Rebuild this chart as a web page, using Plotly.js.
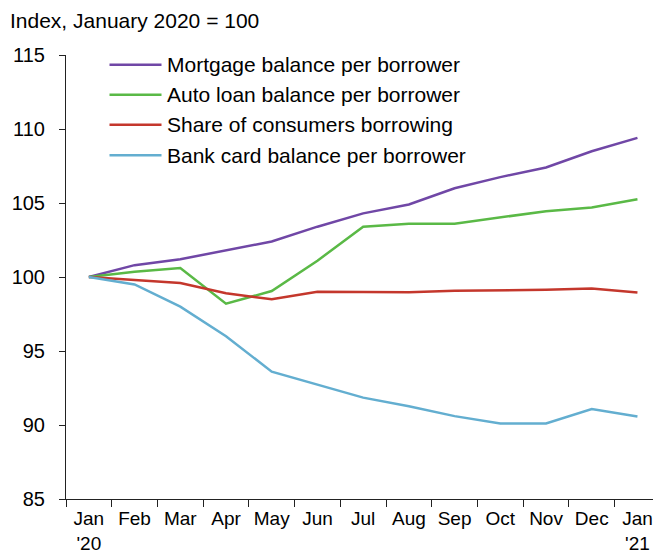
<!DOCTYPE html>
<html>
<head>
<meta charset="utf-8">
<script src="https://cdn.plot.ly/plotly-3.0.1.min.js"></script>
<style>html,body{margin:0;padding:0;background:#fff;}#chart{width:653px;height:550px;}</style>
</head>
<body>
<div id="chart"></div>
<script>
var months = ["Jan<br>'20","Feb","Mar","Apr","May","Jun","Jul","Aug","Sep","Oct","Nov","Dec","Jan<br>'21"];
var mortgage = [100, 100.8, 101.2, 101.8, 102.4, 103.4, 104.3, 104.9, 106.0, 106.75, 107.4, 108.5, 109.4];
var autoLoan = [100, 100.35, 100.6, 98.2, 99.05, 101.1, 103.4, 103.6, 103.6, 104.05, 104.45, 104.7, 105.25];
var shareBorrowing = [100, 99.8, 99.6, 98.9, 98.5, 99.0, 99.0, 98.97, 99.07, 99.1, 99.14, 99.22, 98.96];
var bankCard = [100, 99.5, 98.0, 96.0, 93.6, 92.7, 91.85, 91.27, 90.6, 90.1, 90.1, 91.08, 90.57];

var names = ["Mortgage balance per borrower","Auto loan balance per borrower","Share of consumers borrowing","Bank card balance per borrower"];
var colors = ["#7047a6","#5ab946","#c4372c","#63aed0"];
var series = [mortgage, autoLoan, shareBorrowing, bankCard];

var W = 653, H = 550, mL = 66, mR = 0, mT = 55, mB = 51;
var pw = W - mL - mR, ph = H - mT - mB;
function px2x(p){ return (p - mL) / pw; }
function px2y(p){ return 1 - (p - mT) / ph; }

var traces = series.map(function(s, i){
  return {
    x: months, y: s, type: 'scatter', mode: 'lines', name: names[i],
    line: {color: colors[i], width: 2.5}, showlegend: false
  };
});

var fam = 'Liberation Sans, Arial, sans-serif';
var font = {family: fam, size: 21, color: '#000'};

// manual legend
var legendRows = [64.7, 94.7, 124.7, 155.3];
var shapes = [], annotations = [];
names.forEach(function(n, i){
  shapes.push({type: 'line', xref: 'paper', yref: 'paper',
    x0: px2x(109.5), x1: px2x(161.5), y0: px2y(legendRows[i]), y1: px2y(legendRows[i]),
    line: {color: colors[i], width: 2.5}});
  annotations.push({text: n, xref: 'paper', yref: 'paper', x: px2x(165), y: px2y(legendRows[i]),
    xanchor: 'left', yanchor: 'middle', showarrow: false, font: font});
});
annotations.push({
  text: 'Index, January 2020 = 100', xref: 'paper', yref: 'paper',
  x: px2x(8), y: px2y(20), xanchor: 'left', yanchor: 'middle',
  showarrow: false, font: font
});

var layout = {
  width: W, height: H,
  margin: {l: mL, r: mR, t: mT, b: mB},
  paper_bgcolor: '#fff', plot_bgcolor: '#fff',
  font: font,
  showlegend: false,
  xaxis: {
    type: 'category', range: [-0.5, 12.34], showgrid: false, zeroline: false,
    showline: true, linecolor: '#222', linewidth: 1,
    ticks: 'outside', tickson: 'boundaries', ticklen: 7, tickcolor: '#222',
    tickfont: {family: fam, size: 19, color: '#000'}, tickangle: 0,
    fixedrange: true, ticklabelstandoff: 2
  },
  yaxis: {
    range: [85, 115], tickvals: [85,90,95,100,105,110,115], showgrid: false, zeroline: false,
    showline: true, linecolor: '#222', linewidth: 1,
    ticks: 'outside', ticklen: 6, tickcolor: '#222',
    tickfont: {family: fam, size: 20, color: '#000'}, fixedrange: true,
    ticklabelstandoff: 10
  },
  shapes: shapes,
  annotations: annotations
};
Plotly.newPlot('chart', traces, layout, {displayModeBar: false, staticPlot: true});
</script>
</body>
</html>
